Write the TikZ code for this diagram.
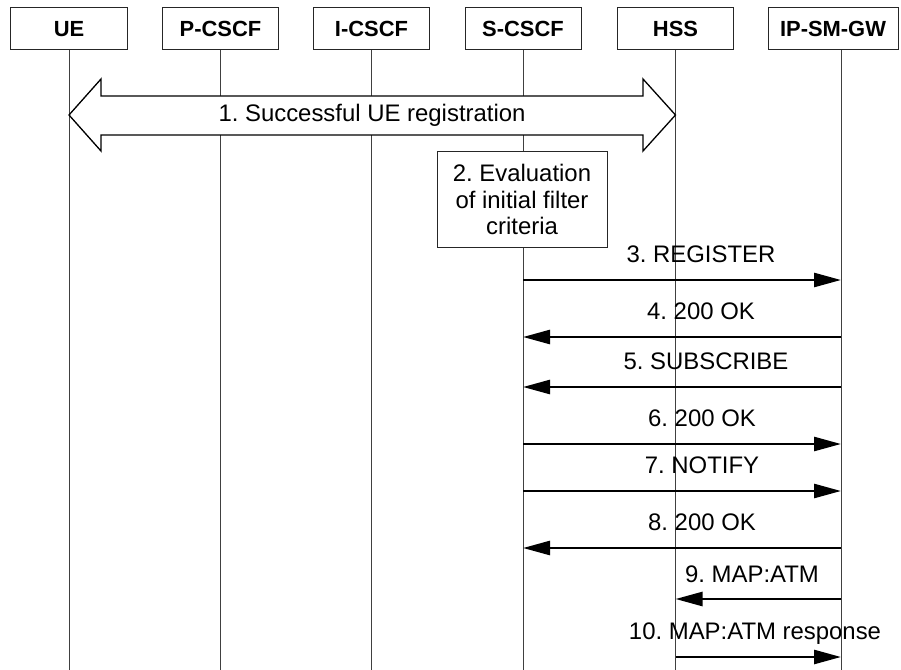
\documentclass[tikz,border=0pt]{standalone}
\usepackage{fontspec}
\setmainfont{Liberation Sans}
\usetikzlibrary{arrows.meta}
\frenchspacing
\begin{document}
\begin{tikzpicture}[x=1bp,y=-1bp,
  ent/.style={draw=black!85, line width=1bp, fill=white, minimum width=116bp, minimum height=42bp, inner sep=0pt, font=\fontsize{22}{26}\selectfont\bfseries},
  life/.style={draw=black!75, line width=1bp},
  msg/.style={line width=2.6bp, -{Triangle[length=27bp,width=14bp]}},
  lbl/.style={font=\fontsize{24}{26}\selectfont, inner sep=0pt, anchor=base},
  evalbox/.style={draw=black!85, line width=1bp, fill=white, minimum width=170bp, minimum height=95bp, inner sep=0pt, align=center, font=\fontsize{24}{27}\selectfont},
  regarrow/.style={draw=black, line width=1.3bp, fill=white, line join=miter},
]
\useasboundingbox (0,0) rectangle (901,670);
% entities
\node[ent] (ue) at (69,29) {UE};
\node[ent] (pcscf) at (220.5,29) {P-CSCF};
\node[ent] (icscf) at (371.5,29) {I-CSCF};
\node[ent] (scscf) at (523,29) {S-CSCF};
\node[ent] (hss) at (675.5,29) {HSS};
\node[ent, minimum width=130bp] (ipsm) at (833,29) {IP-SM-GW};
\coordinate (iptop) at (841,50);
% lifelines
\draw[life] (ue.south) -- (ue.south |- 0,670);
\draw[life] (pcscf.south) -- (pcscf.south |- 0,670);
\draw[life] (icscf.south) -- (icscf.south |- 0,670);
\draw[life] (scscf.south) -- (scscf.south |- 0,670);
\draw[life] (hss.south) -- (hss.south |- 0,670);
\draw[life] (iptop) -- (iptop |- 0,670);
% 1. registration double arrow
\draw[regarrow] (ue.south |- 0,115) -- (101,79) -- (101,96) -- (643,96) -- (643,79) -- (hss.south |- 0,115) -- (643,151) -- (643,135) -- (101,135) -- (101,151) -- cycle;
\node[font=\fontsize{24}{26}\selectfont, inner sep=0pt] (reg) at (372,115) {1. Successful UE registration};
% 2. evaluation
\node[evalbox] (eval) at (522,199.5) {2. Evaluation\\of initial filter\\criteria};
% messages
\draw[msg] (scscf.south |- 0,280) -- (iptop |- 0,280);
\node[lbl] (m3) at (701,262) {3. REGISTER};
\draw[msg] (iptop |- 0,337) -- (scscf.south |- 0,337);
\node[lbl] (m4) at (701,319) {4. 200 OK};
\draw[msg] (iptop |- 0,387) -- (scscf.south |- 0,387);
\node[lbl] (m5) at (706,369) {5. SUBSCRIBE};
\draw[msg] (scscf.south |- 0,444) -- (iptop |- 0,444);
\node[lbl] (m6) at (702,426) {6. 200 OK};
\draw[msg] (scscf.south |- 0,491) -- (iptop |- 0,491);
\node[lbl] (m7) at (702,473) {7. NOTIFY};
\draw[msg] (iptop |- 0,548) -- (scscf.south |- 0,548);
\node[lbl] (m8) at (702,530) {8. 200 OK};
\draw[msg] (iptop |- 0,599) -- (hss.south |- 0,599);
\node[lbl] (m9) at (752,582) {9. MAP:ATM};
\draw[msg] (hss.south |- 0,657) -- (iptop |- 0,657);
\node[lbl] (m10) at (755,639) {10. MAP:ATM response};
\end{tikzpicture}
\end{document}
